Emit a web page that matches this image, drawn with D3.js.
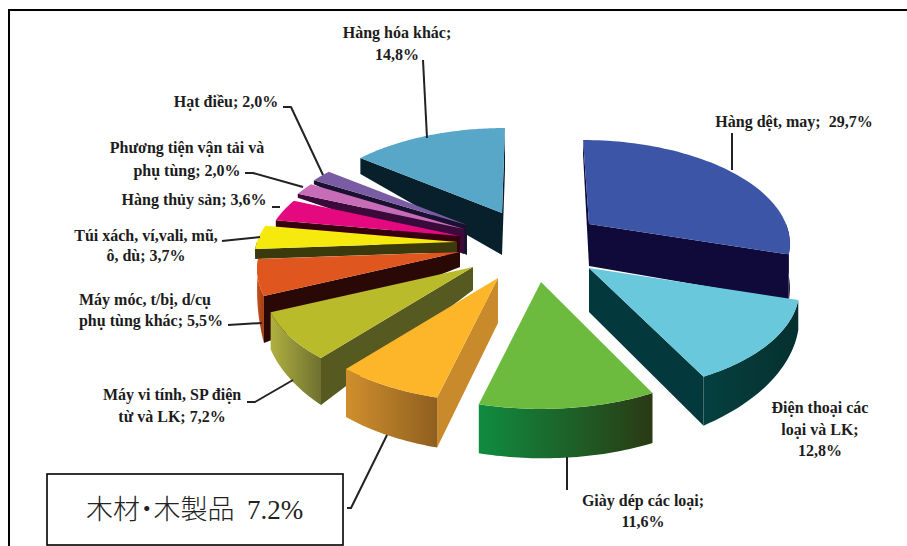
<!DOCTYPE html>
<html>
<head>
<meta charset="utf-8">
<script src="https://cdn.jsdelivr.net/npm/d3@7"></script>
<style>
html,body{margin:0;padding:0;background:#fff;}
svg{display:block;}
.lbl{font-family:"Liberation Serif",serif;font-weight:bold;font-size:16px;fill:#1c1c1c;text-anchor:middle;}
.lead{fill:none;stroke:#222;stroke-width:2;stroke-linejoin:round;}
</style>
</head>
<body>
<svg id="chart" width="907" height="546"></svg>
<script>
// Export structure by product group, percent of total
const categories = ["Hàng dệt, may","Điện thoại các loại và LK","Giày dép các loại","木材・木製品","Máy vi tính, SP điện tử và LK","Máy móc, t/bị, d/cụ phụ tùng khác","Túi xách, ví,vali, mũ, ô, dù","Hàng thủy sản","Phương tiện vận tải và phụ tùng","Hạt điều","Hàng hóa khác"];
const shares = [29.7,12.8,11.6,7.2,7.2,5.5,3.7,3.6,2.0,2.0,14.8];

// Face colours
const topColors  = ["#3d55a6","#6ac8dc","#6cbb3f","#fdb52a","#b9bb2b","#e0561f","#f5e90e","#e5097f","#c86cb8","#7a5ca5","#58a7c9"];
const edgeColors = ["#0f0a3a","#03383c","#1a4a1a","#c98a2c","#565a20","#2a0806","#3a3a0c","#36000f","#3a0a3a","#1a1030","#07202c"];
const rimLeft    = ["#0f0a3a","#04403f","#0f8c3f","#d08f2c","#b0b040","#c9501f","#3a3a0c","#36000f","#3a0a3a","#1a1030","#07202c"];
const rimRight   = ["#0f0a3a","#06302f","#2a3a14","#8f5f20","#6f7030","#a03c10","#3a3a0c","#36000f","#3a0a3a","#1a1030","#07202c"];

// Pull-out of each slice from the hub, in px
const pullOut = [[109,-21],[109,23],[61,37],[18,33],[-7,22],[-20,7],[-23,-3],[-20,-9],[-16,-16],[-13,-20],[22,-32]];
// Extrusion height of each slice: at the apex, at the rim's start and at the rim's end
const wallDepth = [[42,15,46],[44,30,49],[50,50,49],[45,50,48],[23,47,37],[15,47,10],[10,10,10],[22,7,7],[25,4,4],[30,4,4],[42,16,42]];
// Rim reach multiplier per slice
const reach = [0.985,1.03,1.05,1.03,1.03,1,1,0.96,0.96,0.96,1];
// Sideways lean of each slice with depth, in px
const lean = [-6,-6,0,0,0,0,0,0,0,0,3];

const hub = {x:480, y:245};
const svg = d3.select("#chart");
const defs = svg.append("defs");

// Tilted disc with a slight perspective: nearer parts are wider and lower
function tilt(rho, a, skew){
  const z = rho*Math.cos(a);
  return [rho*Math.sin(a)*(200-35*z) + skew*z, -102.5*z + 17.5*z*z];
}

const pie = d3.pie().sort(null).startAngle(0).endAngle(2*Math.PI);
const arcs = pie(shares);
const line = d3.line();
const rad = d => d*Math.PI/180;

const slices = arcs.map((a,i) => {
  const mid = (a.startAngle+a.endAngle)/2;
  return {i, a, mid, ox:hub.x+pullOut[i][0], oy:hub.y+pullOut[i][1]};
}).sort((p,q) => d3.descending(Math.cos(p.mid),Math.cos(q.mid)));

slices.forEach(s => {
  const {i,a,ox,oy,mid} = s;
  const r = reach[i];
  const [dA,dS,dE] = wallDepth[i];
  const pt = t => { const p = tilt(r,t,lean[i]); return [ox+p[0], oy+p[1]]; };
  const depthAt = d3.scaleLinear().domain([a.startAngle,a.endAngle]).range([dS,dE]);
  const g = svg.append("g");

  // Radial walls that face the viewer
  const m = tilt(r*0.6,mid,lean[i]);
  [[a.startAngle,dS],[a.endAngle,dE]].forEach(([t,d]) => {
    const e = tilt(r,t,lean[i]);
    let nx = e[1], ny = -e[0];
    if (nx*m[0]+ny*m[1] > 0){ nx=-nx; ny=-ny; }
    if (ny > 0){
      const p = pt(t);
      g.append("path")
        .attr("d", line([[ox,oy],p,[p[0],p[1]+d],[ox,oy+dA]])+"Z")
        .attr("fill", edgeColors[i]);
    }
  });

  // Outer wall on the near half of the disc
  const lo = Math.max(a.startAngle, rad(90)), hi = Math.min(a.endAngle, rad(270));
  if (hi > lo){
    const ts = d3.range(0,41).map(k => lo+(hi-lo)*k/40);
    const upper = ts.map(pt);
    const lower = ts.map(t => { const p = pt(t); return [p[0],p[1]+depthAt(t)]; }).reverse();
    const id = "rim"+i;
    const gr = defs.append("linearGradient").attr("id",id);
    gr.append("stop").attr("offset","0%").attr("stop-color",rimLeft[i]);
    gr.append("stop").attr("offset","100%").attr("stop-color",rimRight[i]);
    g.append("path").attr("d",line(upper.concat(lower))+"Z").attr("fill","url(#"+id+")");
  }

  // Top face
  const ts = d3.range(0,61).map(k => a.startAngle+(a.endAngle-a.startAngle)*k/60);
  g.append("path")
    .attr("d", line([[ox,oy]].concat(ts.map(pt)))+"Z")
    .attr("fill", topColors[i]);
});

// Leader lines
const leaders = [
  [[732,133],[732,170]],
  [[567,457],[567,490]],
  [[347,508],[351,508],[387,435]],
  [[247,402],[255,402],[293,380]],
  [[228,325],[262,323]],
  [[222,241],[260,237]],
  [[272,207],[280,207]],
  [[245,173],[253,173],[303,187]],
  [[283,107],[291,107],[323,175]],
  [[423,60],[427,138]]
];
svg.selectAll("path.lead").data(leaders).join("path")
  .attr("class","lead").attr("d",d=>line(d));

// Slice labels
const labels = [
  {x:794,y:127,t:"Hàng dệt, may;\u00a0\u00a029,7%"},
  {x:820,y:413,t:"Điện thoại các"},{x:820,y:435,t:"loại và LK;"},{x:820,y:456,t:"12,8%"},
  {x:643,y:506,t:"Giày dép các loại;"},{x:643,y:527,t:"11,6%"},
  {x:172,y:400,t:"Máy vi tính, SP điện"},{x:172,y:422,t:"từ và LK; 7,2%"},
  {x:145,y:305,t:"Máy móc, t/bị, d/cụ"},{x:151,y:326,t:"phụ tùng khác; 5,5%"},
  {x:146,y:241,t:"Túi xách, ví,vali, mũ,"},{x:146,y:261,t:"ô, dù; 3,7%"},
  {x:194,y:205,t:"Hàng thủy sản; 3,6%"},
  {x:187,y:153,t:"Phương tiện vận tải và"},{x:187,y:176,t:"phụ tùng; 2,0%"},
  {x:226,y:107,t:"Hạt điều; 2,0%"},
  {x:397,y:38,t:"Hàng hóa khác;"},{x:397,y:60,t:"14,8%"}
];
svg.selectAll("text.lbl").data(labels).join("text")
  .attr("class","lbl").attr("x",d=>d.x).attr("y",d=>d.y).text(d=>d.t);

// Outer frame: left and top rules only
svg.append("path").attr("d",line([[9,546],[9,10],[907,10]]))
  .attr("fill","none").attr("stroke","#000").attr("stroke-width",2);

// Callout box
svg.append("rect").attr("x",47).attr("y",474).attr("width",296).attr("height",71)
  .attr("fill","#fff").attr("stroke","#000").attr("stroke-width",1.6);
const box = svg.append("text").attr("x",86).attr("y",519).attr("fill","#222").attr("font-size",27);
box.append("tspan").attr("font-family","'Noto Sans CJK JP'").attr("font-weight",300)
  .style("font-feature-settings","'halt'").text("木材・木製品");
box.append("tspan").attr("x",247).attr("font-family","'Liberation Serif'").text("7.2%");
</script>
</body>
</html>
